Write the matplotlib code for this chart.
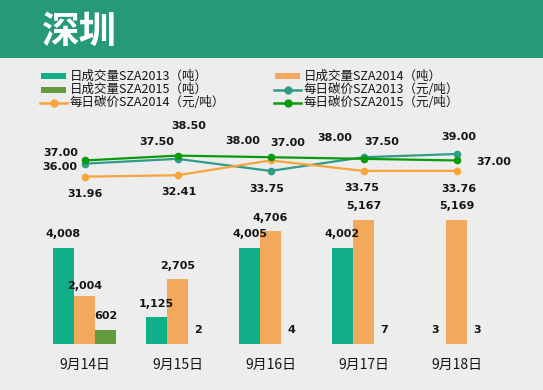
import matplotlib
matplotlib.use("Agg")
import matplotlib.pyplot as plt
from matplotlib.patches import Rectangle
from matplotlib.lines import Line2D
import numpy as np

plt.rcParams['font.family'] = ['Noto Sans CJK SC', 'DejaVu Sans']

# --- datos ---
categorias = ["9月14日", "9月15日", "9月16日", "9月17日", "9月18日"]
volumen_2013 = [4008, 1125, 4005, 4002, 3]
volumen_2014 = [2004, 2705, 4706, 5167, 5169]
volumen_2015 = [602, 2, 4, 7, 3]
precio_2013 = [36.00, 37.50, 33.75, 38.00, 39.00]
precio_2014 = [31.96, 32.41, 37.00, 33.75, 33.76]
precio_2015 = [37.00, 38.50, 38.00, 37.50, 37.00]

nombres_barras = ["日成交量SZA2013（吨）", "日成交量SZA2014（吨）", "日成交量SZA2015（吨）"]
nombres_lineas = ["每日碳价SZA2013（元/吨）", "每日碳价SZA2014（元/吨）", "每日碳价SZA2015（元/吨）"]

# --- estilos ---
fondo = "#EDEDED"
cabecera = "#269A78"
col_barras = ["#10AE89", "#F2A95B", "#629A3E"]
col_lineas = ["#2E9C86", "#F7A43A", "#0B9A0B"]
texto = "#151515"

W, H = 543, 390
fig = plt.figure(figsize=(W / 100, H / 100), dpi=100, facecolor=fondo)

# cabecera verde con el título
fig.patches.append(Rectangle((0, 1 - 58 / H), 1, 58 / H, transform=fig.transFigure,
                             facecolor=cabecera, edgecolor="none"))
fig.text(42 / W, 1 - 31 / H, "深圳", color="white", fontsize=27, fontweight="bold",
         va="center", ha="left")

# área de gráfico
ax = fig.add_axes([38 / W, 46 / H, 465 / W, 224 / H])
ax.set_facecolor("none")
x = np.arange(len(categorias))
ancho = 0.2258
for i, (vals, c) in enumerate(zip([volumen_2013, volumen_2014, volumen_2015], col_barras)):
    pos = x + (i - 1) * ancho
    ax.bar(pos, vals, width=ancho, color=c)
    for px, v in zip(pos, vals):
        dy = 9.7 if not (i == 1 and v == 2004) else 7.2
        ax.annotate(f"{v:,}", (px, v), xytext=(0, dy), textcoords="offset points",
                    ha="center", va="center", fontsize=8, fontweight="bold",
                    color=texto, family="DejaVu Sans")
ax.set_xlim(-0.5, len(categorias) - 0.5)
ax.set_ylim(0, 9330)
ax.set_yticks([])
ax.set_xticks(x)
ax.set_xticklabels(categorias, fontsize=10, color=texto)
ax.tick_params(axis="x", length=0, pad=10)
for s in ax.spines.values():
    s.set_visible(False)

# líneas de precio en eje secundario
ax2 = ax.twinx()
ax2.set_ylim(-20.0, 49.56)
ax2.set_yticks([])
for s in ax2.spines.values():
    s.set_visible(False)

# desplazamientos de etiquetas (px) respecto a cada punto
desp = [
    [(-25, -3), (-21, 17), (-4, -18), (-29, 19), (2, 17)],
    [(0, -17), (1, -17), (17, 17), (-2, -17), (2, -18)],
    [(-24, 7), (11, 30), (-28, 16), (18, 17), (37, -2)],
]
for serie, c, d in zip([precio_2013, precio_2014, precio_2015], col_lineas, desp):
    ax2.plot(x, serie, color=c, lw=1.6, marker="o", ms=4.5)
    for px, v, (ox, oy) in zip(x, serie, d):
        ax2.annotate(f"{v:.2f}", (px, v), xytext=(ox * 0.72, oy * 0.72),
                     textcoords="offset points", ha="center", va="center",
                     fontsize=8, fontweight="bold", color=texto, family="DejaVu Sans")

# leyenda dibujada a mano (dos columnas)
entradas = [
    ("barra", col_barras[0], nombres_barras[0]),
    ("barra", col_barras[1], nombres_barras[1]),
    ("barra", col_barras[2], nombres_barras[2]),
    ("linea", col_lineas[0], nombres_lineas[0]),
    ("linea", col_lineas[1], nombres_lineas[1]),
    ("linea", col_lineas[2], nombres_lineas[2]),
]
col_x = [41, 275]
fila_y = [76, 89.5, 103]
for k, (tipo, c, nombre) in enumerate(entradas):
    cx = col_x[k % 2]
    cy = fila_y[k // 2]
    if tipo == "barra":
        fig.patches.append(Rectangle((cx / W, 1 - (cy + 3) / H), 25 / W, 6 / H,
                                     transform=fig.transFigure, facecolor=c,
                                     edgecolor="none"))
    else:
        fig.add_artist(Line2D([(cx - 1) / W, (cx + 26) / W], [1 - cy / H, 1 - cy / H],
                              transform=fig.transFigure, color=c, lw=1.8))
        fig.add_artist(Line2D([(cx + 12.5) / W], [1 - cy / H], transform=fig.transFigure,
                              color=c, marker="o", ms=5))
    fig.text((cx + 29) / W, 1 - cy / H, nombre, fontsize=9, color=texto,
             va="center", ha="left")

fig.savefig("out.png", dpi=100, facecolor=fondo)
